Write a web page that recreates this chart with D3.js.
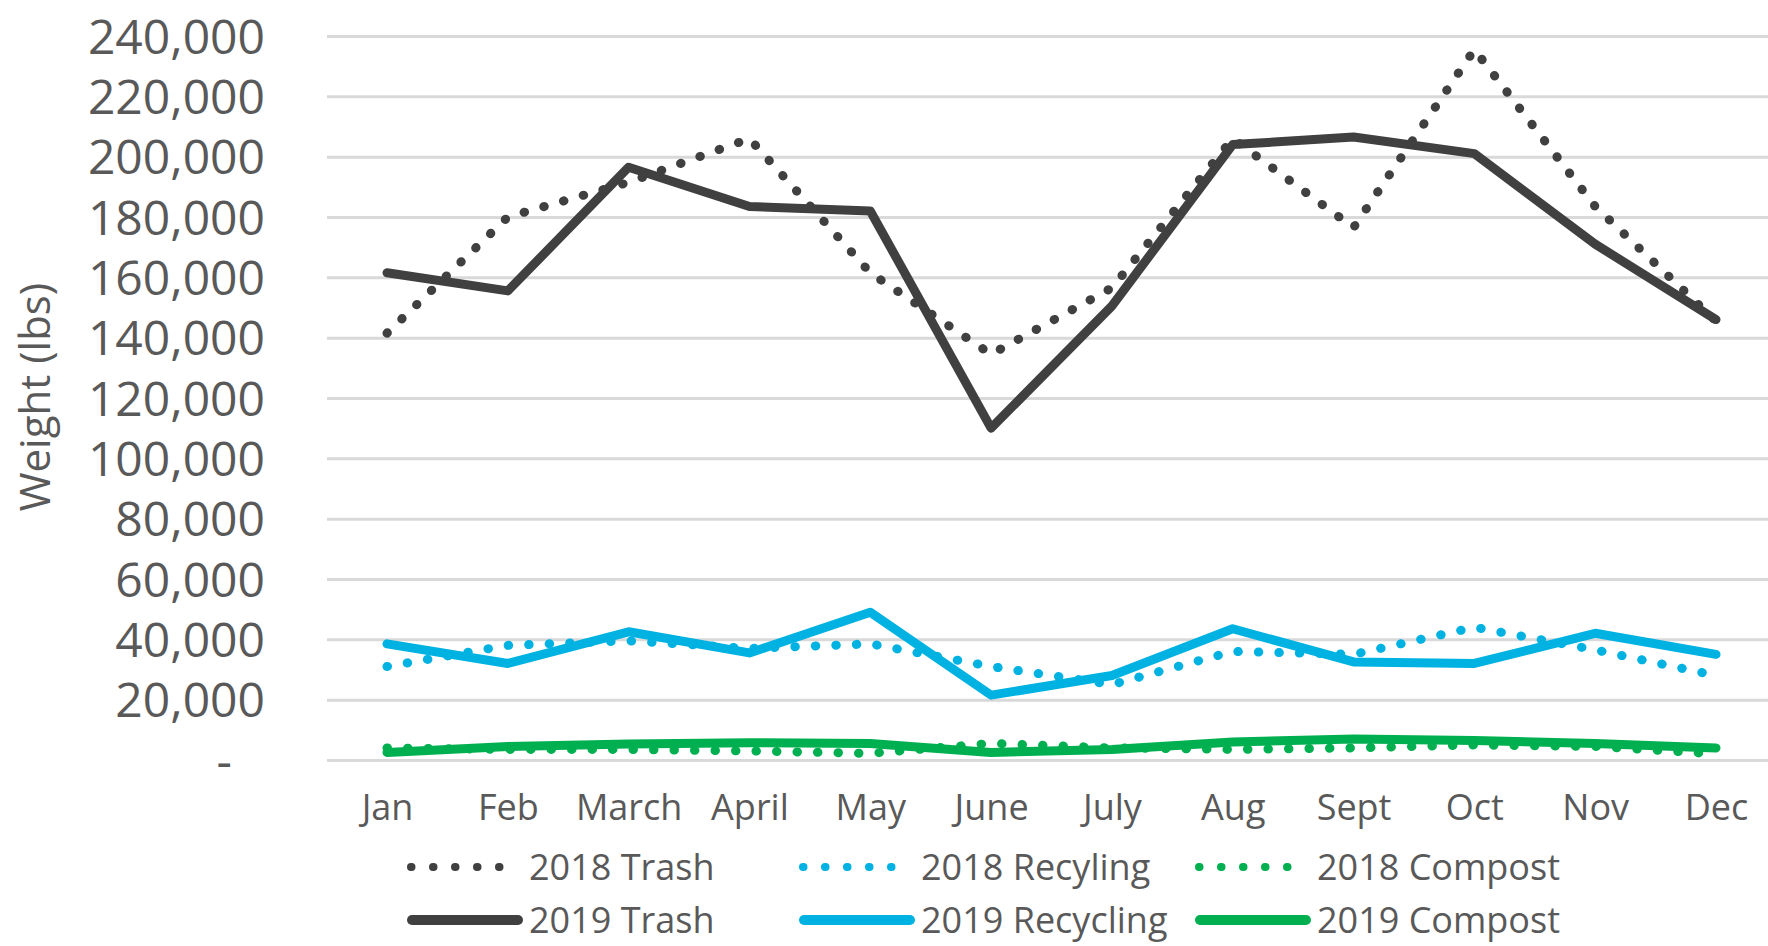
<!DOCTYPE html>

<head>
	<meta charset="UTF-8">
	<script src="https://d3js.org/d3.v7.min.js"></script>
	<style>
		body { margin: 0; background: #fff; }
	</style>
</head>

<body>
	<div id="chart"></div>
<script>

// data (lbs per month)
const months = ["Jan", "Feb", "March", "April", "May", "June", "July", "Aug", "Sept", "Oct", "Nov", "Dec"];
const trash2018 = [141500, 180000, 191500, 206000, 161500, 134500, 156500, 206000, 176500, 235500, 183500, 145500];
const trash2019 = [161500, 155500, 196500, 183500, 182000, 110000, 150500, 204000, 206500, 201000, 171000, 146000];
const recycling2018 = [31000, 38000, 39500, 37000, 38500, 31000, 25000, 36000, 35000, 44000, 36500, 28000];
const recycling2019 = [38500, 32000, 42500, 35500, 49000, 21500, 28000, 43500, 32500, 32000, 42000, 35000];
const compost2018 = [4000, 3500, 3500, 3000, 2200, 5500, 4000, 3500, 4000, 5000, 4500, 2000];
const compost2019 = [2500, 4500, 5300, 5750, 5500, 2500, 3500, 6000, 7000, 6500, 5500, 4000];
const yTicks = [0, 20000, 40000, 60000, 80000, 100000, 120000, 140000, 160000, 180000, 200000, 220000, 240000];

const series = [
  {name: "2018 Trash", values: trash2018, color: "#404040", dotted: true},
  {name: "2018 Recyling", values: recycling2018, color: "#00b2e2", dotted: true},
  {name: "2018 Compost", values: compost2018, color: "#00b050", dotted: true},
  {name: "2019 Trash", values: trash2019, color: "#404040", dotted: false},
  {name: "2019 Recycling", values: recycling2019, color: "#00b2e2", dotted: false},
  {name: "2019 Compost", values: compost2019, color: "#00b050", dotted: false}
];

const width = 1768, height = 946;
const textColor = "#595959";
const font = '"Open Sans", sans-serif';

const svg = d3.select("#chart").append("svg")
  .attr("width", width)
  .attr("height", height)
  .style("font-family", font);

const x = d3.scalePoint(months, [387, 1716]);
const y = d3.scaleLinear([0, 240000], [760, 36]);

// gridlines
svg.append("g")
  .attr("transform", "translate(327,0)")
  .call(d3.axisLeft(y).tickValues(yTicks).tickSize(-1441).tickFormat(""))
  .call(g => g.select(".domain").remove())
  .call(g => g.selectAll(".tick line").attr("stroke", "#d9d9d9").attr("stroke-width", 3));

// y tick labels
const yAxis = svg.append("g")
  .attr("transform", "translate(265,0)")
  .call(d3.axisLeft(y).tickValues(yTicks).tickSize(0).tickPadding(0)
    .tickFormat(d => d === 0 ? "-" : d3.format(",")(d)))
  .attr("font-family", font)
  .attr("font-size", 48);
yAxis.select(".domain").remove();
yAxis.selectAll("text")
  .attr("fill", textColor)
  .attr("dy", "0.36em")
  .attr("dx", d => d === 0 ? -33 : 0);

// y title
svg.append("text")
  .attr("transform", "translate(50,397) rotate(-90)")
  .attr("text-anchor", "middle")
  .attr("font-size", 42)
  .attr("fill", textColor)
  .text("Weight (lbs)");

// month labels
const xAxis = svg.append("g")
  .attr("transform", "translate(0,820)")
  .call(d3.axisBottom(x).tickSize(0).tickPadding(0))
  .attr("font-family", font)
  .attr("font-size", 36);
xAxis.select(".domain").remove();
xAxis.selectAll("text").attr("fill", textColor).attr("dy", 0).attr("y", 0);

// lines
const line = d3.line()
  .x((d, i) => x(months[i]))
  .y(d => y(d));

svg.append("g")
  .selectAll("path")
  .data(series)
  .join("path")
  .attr("d", d => line(d.values))
  .attr("fill", "none")
  .attr("stroke", d => d.color)
  .attr("stroke-width", d => d.dotted ? 9 : 9)
  .attr("stroke-linecap", "round")
  .attr("stroke-linejoin", "round")
  .attr("stroke-dasharray", d => d.dotted ? "0.5 20" : null);

// legend, 3 columns x 2 rows
const legendCols = [408, 800, 1196];
const legendRows = [867, 920];
const legend = svg.append("g")
  .selectAll("g")
  .data(series)
  .join("g")
  .attr("transform", (d, i) => `translate(${legendCols[i % 3]},${legendRows[Math.floor(i / 3)]})`);

legend.append("line")
  .attr("x1", d => d.dotted ? 3 : 4)
  .attr("x2", d => d.dotted ? 113 : 110)
  .attr("stroke", d => d.color)
  .attr("stroke-width", d => d.dotted ? 8 : 10)
  .attr("stroke-linecap", "round")
  .attr("stroke-dasharray", d => d.dotted ? "0.5 21.5" : null);

legend.append("text")
  .attr("x", 121)
  .attr("dy", "0.36em")
  .attr("font-size", 36)
  .attr("fill", textColor)
  .text(d => d.name);

</script>
</body>
</html>
